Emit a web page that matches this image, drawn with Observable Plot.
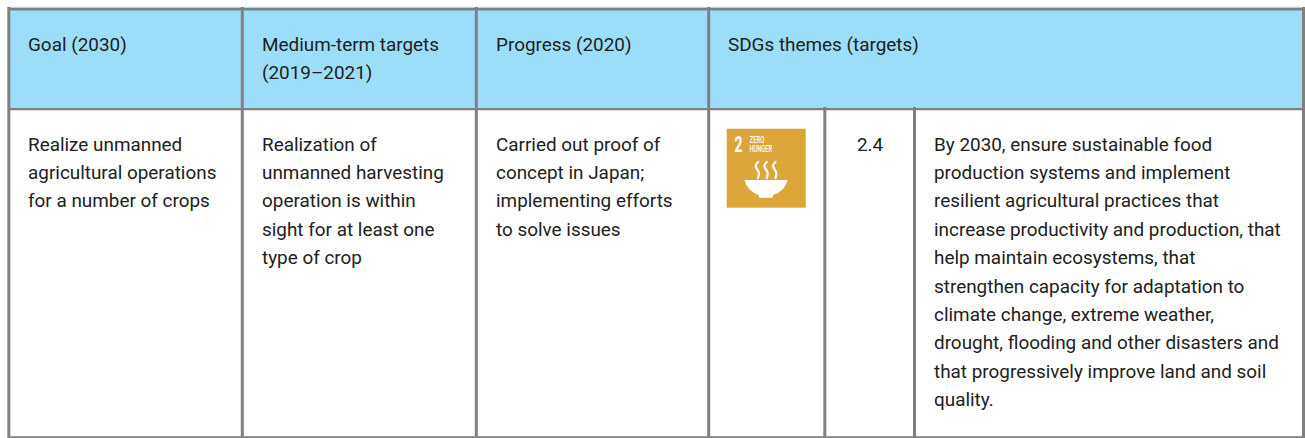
<!DOCTYPE html>
<html>
<head>
<meta charset="utf-8">
<script src="https://cdn.jsdelivr.net/npm/d3@7"></script>
<script src="https://cdn.jsdelivr.net/npm/@observablehq/plot@0.6"></script>
<style>html,body{margin:0;padding:0;background:#fff}svg{display:block}</style>
</head>
<body>
<div id="chart"></div>
<script>
const headerGoal = ["Goal (2030)"];
const headerMedium = ["Medium-term targets", "(2019–2021)"];
const headerProgress = ["Progress (2020)"];
const headerThemes = ["SDGs themes (targets)"];
const goalLines = ["Realize unmanned", "agricultural operations", "for a number of crops"];
const mediumLines = ["Realization of", "unmanned harvesting", "operation is within", "sight for at least one", "type of crop"];
const progressLines = ["Carried out proof of", "concept in Japan;", "implementing efforts", "to solve issues"];
const targetNumber = ["2.4"];
const targetLines = [
  "By 2030, ensure sustainable food",
  "production systems and implement",
  "resilient agricultural practices that",
  "increase productivity and production, that",
  "help maintain ecosystems, that",
  "strengthen capacity for adaptation to",
  "climate change, extreme weather,",
  "drought, flooding and other disasters and",
  "that progressively improve land and soil",
  "quality."
];

// layout of the table grid, in the chart's own coordinate system
const W = 1305, H = 438;
const gridX = [8.3, 241.8, 475.8, 708.2, 1303];
const subGridX = [824.3, 914];
const gridY = [8.7, 108.6, 437];
const headerY = 44, bodyY = 144, lineGap = 28.4;
const textX = [27.5, 261.5, 495.5, 933.5];
const iconBox = {x1: 726.7, x2: 805.7, y1: 128.7, y2: 207.7};

const toRows = (lines, x, y0) =>
  lines.map((t, i) => ({t, x, y: y0 + i * lineGap}));
const cells = [
  ...toRows(headerGoal, textX[0], headerY),
  ...toRows(headerMedium, textX[1], headerY),
  ...toRows(headerProgress, textX[2], headerY),
  ...toRows(headerThemes, 727.5, headerY),
  ...toRows(goalLines, textX[0], bodyY),
  ...toRows(mediumLines, textX[1], bodyY),
  ...toRows(progressLines, textX[2], bodyY),
  ...toRows(targetLines, textX[3], bodyY)
];

const steam = [0, 1, 2].flatMap(k => [
  {k, x: 757.6 + k * 8.7, y: 161.5}, {k, x: 755.2 + k * 8.7, y: 166}, {k, x: 758.4 + k * 8.7, y: 172}, {k, x: 757.4 + k * 8.7, y: 177.5}
]);
const bowl = [
  [744,179.4],[787,179.4],[785.5,184],[782,189],[777,192.8],[773,194.2],[772,197.3],[759,197.3],[758,194.2],[754,192.8],[749,189],[745.5,184]
].map(([x, y]) => ({x, y}));

// squeeze a label horizontally to a given width (the icon lettering is condensed)
const squeeze = len => (index, scales, values, dims, ctx, next) => {
  const g = next(index, scales, values, dims, ctx);
  g.querySelectorAll("text").forEach(t => {
    t.setAttribute("textLength", len);
    t.setAttribute("lengthAdjust", "spacingAndGlyphs");
  });
  return g;
};

const fontFamily = "Roboto, sans-serif";
const bold = "Roboto, sans-serif";
const chart = Plot.plot({
  width: W, height: H,
  margin: 0,
  x: {domain: [0, W], range: [0, W], axis: null},
  y: {domain: [0, H], range: [0, H], axis: null},
  style: {background: "#fff", fontFamily},
  marks: [
    Plot.rect([{}], {x1: gridX[0], x2: gridX[4], y1: gridY[0] - 2, y2: gridY[1], fill: "#9cdefa"}),
    Plot.ruleX(gridX, {y1: 7, y2: H, stroke: "#808080", strokeWidth: 3}),
    Plot.ruleX(subGridX, {y1: 107, y2: H, stroke: "#808080", strokeWidth: 3}),
    Plot.ruleY(gridY, {x1: gridX[0], x2: W, stroke: "#808080", strokeWidth: 2.4}),
    Plot.rect([iconBox], {x1: "x1", x2: "x2", y1: "y1", y2: "y2", fill: "#dda63a"}),
    Plot.text(["2"], {x: 738, y: 144, text: d => d, fill: "#fff", fontSize: 22, fontWeight: 700, fontFamily: bold, render: squeeze(8)}),
    Plot.text(["ZERO"], {x: 749, y: 139.3, text: d => d, fill: "#fff", fontSize: 8.6, fontWeight: 500, textAnchor: "start", fontFamily: bold, render: squeeze(15)}),
    Plot.text(["HUNGER"], {x: 749, y: 148.5, text: d => d, fill: "#fff", fontSize: 8.6, fontWeight: 500, textAnchor: "start", fontFamily: bold, render: squeeze(22.5)}),
    Plot.line(steam, {x: "x", y: "y", z: "k", curve: "natural", stroke: "#fff", strokeWidth: 2.2}),
    Plot.line(bowl, {x: "x", y: "y", fill: "#fff", stroke: "none", curve: "linear-closed"}),
    Plot.text(cells, {x: "x", y: "y", text: "t", textAnchor: "start", fill: "#212121", fontSize: 18.9}),
    Plot.text(targetNumber, {x: 869.5, y: bodyY, text: d => d, textAnchor: "middle", fill: "#212121", fontSize: 18.9})
  ]
});
document.getElementById("chart").append(chart);
</script>
</body>
</html>
